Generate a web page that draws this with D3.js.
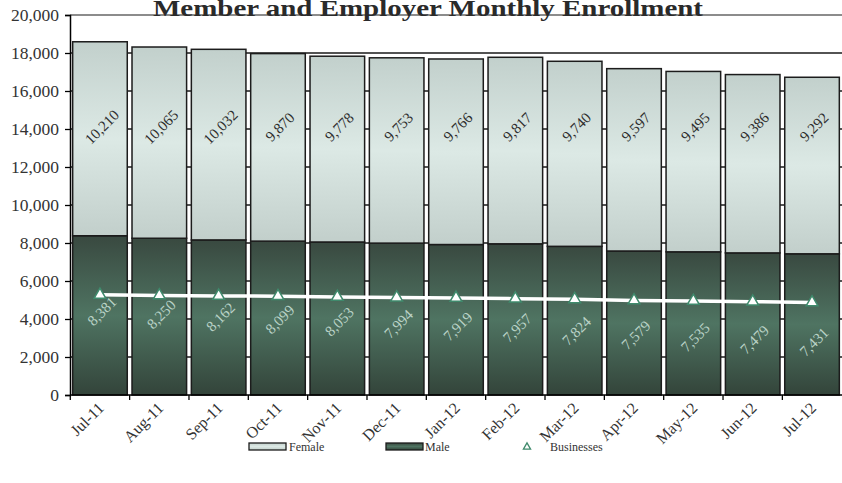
<!DOCTYPE html>
<html><head><meta charset="utf-8">
<script src="https://cdn.jsdelivr.net/npm/d3@7"></script>
<style>body{margin:0;background:#fff}svg{display:block}</style>
</head><body><svg id="c" width="842" height="483"></svg>
<script>
const months = ["Jul-11","Aug-11","Sep-11","Oct-11","Nov-11","Dec-11","Jan-12","Feb-12","Mar-12","Apr-12","May-12","Jun-12","Jul-12"];
const male = [8381,8250,8162,8099,8053,7994,7919,7957,7824,7579,7535,7479,7431];
const female = [10210,10065,10032,9870,9778,9753,9766,9817,9740,9597,9495,9386,9292];
const businesses = [5270,5240,5215,5200,5160,5130,5110,5070,5040,4975,4950,4910,4870];
const yTicks = [0,2000,4000,6000,8000,10000,12000,14000,16000,18000,20000];
const title = "Member and Employer Monthly Enrollment";
const legendItems = ["Female","Male","Businesses"];

const serif = "'Liberation Serif','Times New Roman',serif";
const svg = d3.select("#c");
const m = {left:70, right:842, top:15, bottom:395};

const x = d3.scaleBand().domain(months).range([m.left, m.right]).paddingInner(0.08).paddingOuter(0.045);
const y = d3.scaleLinear().domain([0,20000]).range([m.bottom, m.top]);

const defs = svg.append("defs");
function grad(id, stops){
  const g = defs.append("linearGradient").attr("id",id).attr("x1",0).attr("y1",0).attr("x2",0).attr("y2",1);
  stops.forEach(s=>g.append("stop").attr("offset",s[0]).attr("stop-color",s[1]));
}
grad("gF",[[0,"#c2d0cc"],[0.5,"#dce9e5"],[1,"#c2cfcb"]]);
grad("gM",[[0,"#394940"],[0.5,"#4f7462"],[1,"#33443a"]]);

// gridlines (behind bars)
svg.append("g").selectAll("line").data(yTicks.filter(d=>d>0 && d<20000)).join("line")
  .attr("x1",m.left).attr("x2",m.right).attr("y1",d=>y(d)).attr("y2",d=>y(d))
  .attr("stroke","#1a1a1a").attr("stroke-width",1.3);
svg.append("line").attr("x1",m.left).attr("x2",m.right).attr("y1",y(20000)).attr("y2",y(20000))
  .attr("stroke","#8c8c8c").attr("stroke-width",2);

// bars
const bars = svg.append("g");
bars.selectAll("rect.m").data(months).join("rect").attr("class","m")
  .attr("x",d=>x(d)).attr("width",x.bandwidth())
  .attr("y",(d,i)=>y(male[i])).attr("height",(d,i)=>y(0)-y(male[i]))
  .attr("fill","url(#gM)").attr("stroke","#1c1c1c").attr("stroke-width",1.5);
bars.selectAll("rect.f").data(months).join("rect").attr("class","f")
  .attr("x",d=>x(d)).attr("width",x.bandwidth())
  .attr("y",(d,i)=>y(male[i]+female[i])).attr("height",(d,i)=>y(male[i])-y(male[i]+female[i]))
  .attr("fill","url(#gF)").attr("stroke","#1c1c1c").attr("stroke-width",1.5);

// value labels
const fmt = d3.format(",");
const cx = d=>x(d)+x.bandwidth()/2;
svg.append("g").selectAll("text").data(months).join("text")
  .attr("transform",(d,i)=>`translate(${cx(d)+2},${y(14100)}) rotate(-45)`)
  .attr("text-anchor","middle").attr("dominant-baseline","central")
  .style("font-family",serif).style("font-size","15px").attr("fill","#2e2e2e")
  .text((d,i)=>fmt(female[i]));
svg.append("g").selectAll("text").data(months).join("text")
  .attr("transform",(d,i)=>`translate(${cx(d)+2},${y(male[i]/2)-4+i*1.8}) rotate(-45)`)
  .attr("text-anchor","middle").attr("dominant-baseline","central")
  .style("font-family",serif).style("font-size","15px").attr("fill","#b9d2c6")
  .text((d,i)=>fmt(male[i]));

// businesses line
svg.append("path").datum(months)
  .attr("d",d3.line().x(d=>cx(d)).y((d,i)=>y(businesses[i])))
  .attr("fill","none").attr("stroke","#fff").attr("stroke-width",3.5);
svg.append("g").selectAll("path").data(months).join("path")
  .attr("transform",(d,i)=>`translate(${cx(d)},${y(businesses[i])})`)
  .attr("d",d3.symbol(d3.symbolTriangle,60))
  .attr("fill","#fff").attr("stroke","#3f8a6c").attr("stroke-width",1.5);

// y axis
const ya = svg.append("g").attr("transform",`translate(${m.left},0)`)
  .call(d3.axisLeft(y).tickValues(yTicks).tickSize(5).tickPadding(6).tickFormat(fmt));
ya.select(".domain").attr("stroke","#000").attr("stroke-width",1.5);
ya.selectAll(".tick line").attr("stroke","#000").attr("stroke-width",1.3);
ya.selectAll(".tick text").style("font-family",serif).style("font-size","17.5px").attr("fill","#333");

// x axis
svg.append("line").attr("x1",m.left).attr("x2",m.right).attr("y1",y(0)).attr("y2",y(0))
  .attr("stroke","#000").attr("stroke-width",1.5);
const gap = x.step()*x.paddingInner();
const bounds = months.map(d=>x(d)-gap/2);
svg.append("g").selectAll("line").data(bounds).join("line")
  .attr("x1",d=>d).attr("x2",d=>d).attr("y1",y(0)).attr("y2",y(0)+5)
  .attr("stroke","#000").attr("stroke-width",1.3);
svg.append("g").selectAll("text").data(months).join("text")
  .attr("transform",d=>`translate(${cx(d)+5},${y(0)+14}) rotate(-45)`)
  .attr("text-anchor","end")
  .style("font-family",serif).style("font-size","16px").attr("fill","#333")
  .text(d=>d);

// title
svg.append("text").attr("x",428).attr("y",16).attr("text-anchor","middle")
  .attr("textLength",550).attr("lengthAdjust","spacingAndGlyphs")
  .style("font-family",serif).style("font-weight","bold").style("font-size","23px").attr("fill","#2a2a2a")
  .text(title);

// legend
const lg = svg.append("g").style("font-family",serif).style("font-size","12px").attr("fill","#333");
lg.append("rect").attr("x",249).attr("y",443).attr("width",37).attr("height",7)
  .attr("fill","url(#gF)").attr("stroke","#1c1c1c").attr("stroke-width",1.3);
lg.append("text").attr("x",289).attr("y",451).text(legendItems[0]);
lg.append("rect").attr("x",386).attr("y",443).attr("width",37).attr("height",7)
  .attr("fill","url(#gM)").attr("stroke","#1c1c1c").attr("stroke-width",1.3);
lg.append("text").attr("x",425).attr("y",451).text(legendItems[1]);
lg.append("path").attr("transform","translate(527,447)").attr("d",d3.symbol(d3.symbolTriangle,22))
  .attr("fill","#fff").attr("stroke","#3f8a6c").attr("stroke-width",1.3);
lg.append("text").attr("x",550).attr("y",451).text(legendItems[2]);
</script></body></html>
